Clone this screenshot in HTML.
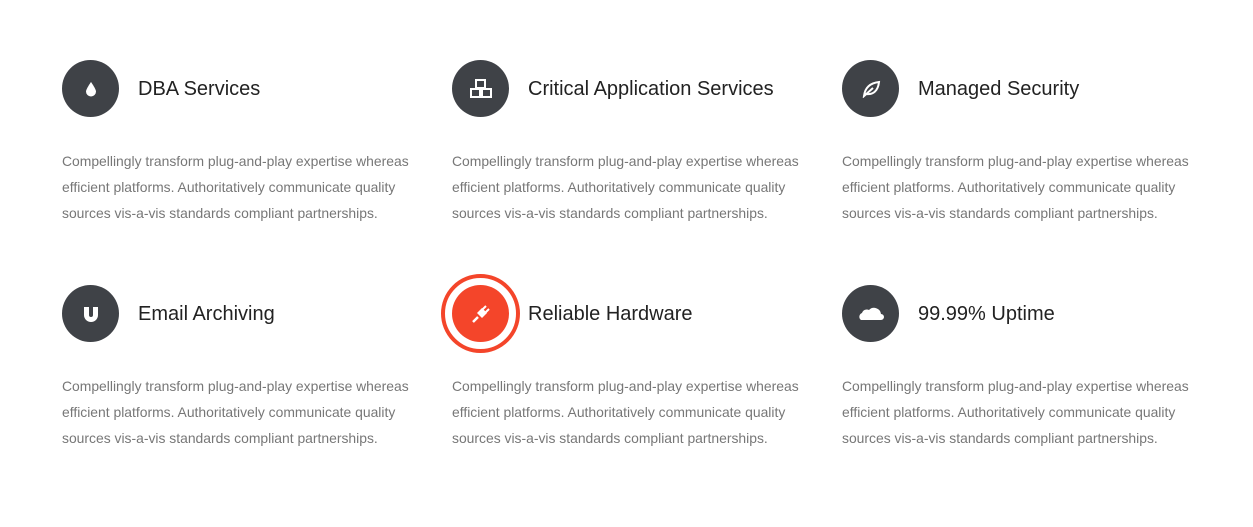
<!DOCTYPE html>
<html><head><meta charset="utf-8"><style>
body{margin:0;width:1253px;height:527px;background:#fff;font-family:"Liberation Sans",sans-serif;position:relative;overflow:hidden}
.item{position:absolute;width:380px}
.ic{position:absolute;left:0;top:0;width:57px;height:57px;border-radius:50%;background:#3f4247;display:flex;align-items:center;justify-content:center}
.ic.red{background:#f4452a}
.ic.red::after{content:"";position:absolute;left:-11px;top:-11px;width:79px;height:79px;box-sizing:border-box;border:4px solid #f4452a;border-radius:50%}
.t{position:absolute;left:76px;top:18px;font-size:20px;color:#222;white-space:nowrap}
.p{position:absolute;left:0;top:88px;font-size:13.9px;line-height:26px;color:#777;white-space:nowrap}
</style></head><body>
<div class="item" style="left:62px;top:60px"><div class="ic"><svg width="14" height="16" viewBox="0 0 14 16"><path d="M7 1 C7 1 2 8 2 10.5 A5 5 0 0 0 12 10.5 C12 8 7 1 7 1Z" fill="#fff"/></svg></div><div class="t">DBA Services</div><div class="p">Compellingly transform plug-and-play expertise whereas<br>efficient platforms. Authoritatively communicate quality<br>sources vis-a-vis standards compliant partnerships.</div></div>
<div class="item" style="left:452px;top:60px"><div class="ic"><svg width="24" height="22" viewBox="0 0 24 22" fill="none" stroke="#fff" stroke-width="2"><rect x="7" y="2" width="9" height="8"/><rect x="2" y="11" width="9" height="8"/><rect x="13" y="11" width="9" height="8"/></svg></div><div class="t">Critical Application Services</div><div class="p">Compellingly transform plug-and-play expertise whereas<br>efficient platforms. Authoritatively communicate quality<br>sources vis-a-vis standards compliant partnerships.</div></div>
<div class="item" style="left:842px;top:60px"><div class="ic"><svg width="20" height="18" viewBox="0 0 20 18"><path d="M3 16 C4 8 9 3 18 2 C17 11 12 15 5 14Z" fill="none" stroke="#fff" stroke-width="2"/><path d="M3 16 L12 8" stroke="#fff" stroke-width="2"/></svg></div><div class="t">Managed Security</div><div class="p">Compellingly transform plug-and-play expertise whereas<br>efficient platforms. Authoritatively communicate quality<br>sources vis-a-vis standards compliant partnerships.</div></div>
<div class="item" style="left:62px;top:285px"><div class="ic"><svg width="18" height="18" viewBox="0 0 18 18"><path d="M2 2 H7 V10 A2 2 0 0 0 11 10 V2 H16 V10 A7 7 0 0 1 2 10Z" fill="#fff"/></svg></div><div class="t">Email Archiving</div><div class="p">Compellingly transform plug-and-play expertise whereas<br>efficient platforms. Authoritatively communicate quality<br>sources vis-a-vis standards compliant partnerships.</div></div>
<div class="item" style="left:452px;top:285px"><div class="ic red"><svg width="20" height="20" viewBox="0 0 20 20"><path d="M2 18 L7 13" stroke="#fff" stroke-width="2.5"/><path d="M6 9 L11 4 L16 9 L11 14Z" fill="#fff"/><path d="M11 6 L15 2 M14 9 L18 5" stroke="#fff" stroke-width="2"/></svg></div><div class="t">Reliable Hardware</div><div class="p">Compellingly transform plug-and-play expertise whereas<br>efficient platforms. Authoritatively communicate quality<br>sources vis-a-vis standards compliant partnerships.</div></div>
<div class="item" style="left:842px;top:285px"><div class="ic"><svg width="28" height="14" viewBox="0 0 28 14"><path d="M4 13 A4 4 0 0 1 5 6 A5 5 0 0 1 12 3 A7 7 0 0 1 24 7 A3 3 0 0 1 24 13Z" fill="#fff"/></svg></div><div class="t">99.99% Uptime</div><div class="p">Compellingly transform plug-and-play expertise whereas<br>efficient platforms. Authoritatively communicate quality<br>sources vis-a-vis standards compliant partnerships.</div></div>
</body></html>
